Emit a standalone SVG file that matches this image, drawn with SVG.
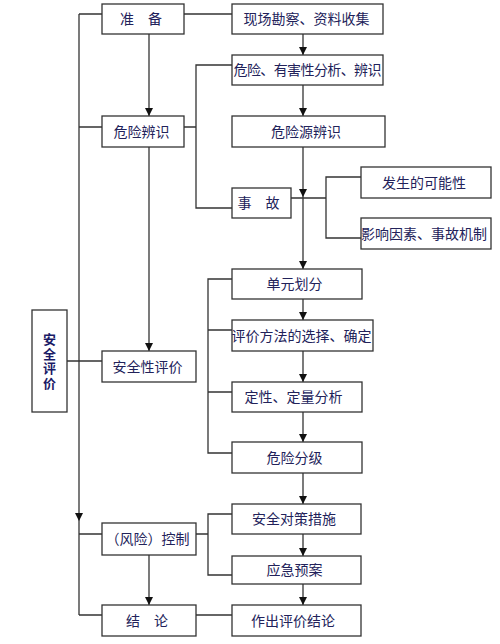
<svg xmlns="http://www.w3.org/2000/svg" width="500" height="644" viewBox="0 0 500 644">
<style>
.box{fill:#ffffff;stroke:#333333;stroke-width:1.3}
.t{font-family:"Noto Sans CJK SC","Noto Sans",sans-serif;font-size:14px;fill:#22225a;text-anchor:middle}
.tb{font-family:"Noto Sans CJK SC","Noto Sans",sans-serif;font-size:13px;font-weight:bold;fill:#1a1a66;writing-mode:vertical-rl;letter-spacing:1.5px}
.ln{fill:none;stroke:#333333;stroke-width:1.3}
.ar{fill:none;stroke:#333333;stroke-width:1.3;marker-end:url(#ah)}
</style>
<defs>
<marker id="ah" markerUnits="userSpaceOnUse" markerWidth="8" markerHeight="8" refX="8" refY="4" orient="auto">
<path d="M0,0 L8,4 L0,8 z" fill="#111111"/>
</marker>
</defs>
<rect width="500" height="644" fill="#ffffff"/>
<g id="connectors">
<path class="ar" d="M79,14 V521"/>
<path class="ln" d="M79,521 V615"/>
<path class="ln" d="M79,14 H102 M79,127 H102 M67,361 H102 M79,534 H102 M79,615 H102"/>
<path class="ar" d="M149,34 V116"/>
<path class="ar" d="M149,147 V351"/>
<path class="ar" d="M149,555 V605"/>
<path class="ln" d="M184,14 H232"/>
<path class="ln" d="M184,127 H196 M232,65 H196 V208 H232"/>
<path class="ar" d="M303,34 V55"/>
<path class="ar" d="M303,85 V116"/>
<path class="ar" d="M303,147 V197"/>
<path class="ar" d="M303,197 V269"/>
<path class="ln" d="M291,198 H326 M361,177 H326 V238 H361"/>
<path class="ln" d="M232,279 H208 V453 H232 M208,330 H232 M208,392 H232"/>
<path class="ar" d="M303,299 V320"/>
<path class="ar" d="M303,351 V382"/>
<path class="ar" d="M303,412 V442"/>
<path class="ar" d="M303,473 V504"/>
<path class="ar" d="M303,534 V556"/>
<path class="ar" d="M303,584 V605"/>
<path class="ln" d="M196,534 H208 M232,514 H208 V575 H232"/>
<path class="ln" d="M196,615 H232"/>
</g>
<g id="main"><rect class="box" x="32" y="310" width="35" height="102"/>
<text class="tb" x="49.5" y="333">安全评价</text></g>
<g id="prep"><rect class="box" x="102" y="4" width="82" height="30"/><text class="t" x="141" y="24">准　备</text></g>
<g id="hazid"><rect class="box" x="102" y="116" width="82" height="31"/><text class="t" x="141.5" y="136.5">危险辨识</text></g>
<g id="safeeval"><rect class="box" x="102" y="351" width="94" height="31"/><text class="t" x="147.5" y="371.5">安全性评价</text></g>
<g id="control"><rect class="box" x="102" y="523" width="94" height="32"/><text class="t" x="147.5" y="544">（风险）控制</text></g>
<g id="concl"><rect class="box" x="102" y="605" width="94" height="31"/><text class="t" x="147" y="625.5">结　论</text></g>
<g id="survey"><rect class="box" x="232" y="4" width="151" height="30"/><text class="t" x="306.5" y="24">现场勘察、资料收集</text></g>
<g id="analysis"><rect class="box" x="232" y="55" width="151" height="30"/><text class="t" x="307.5" y="75" textLength="148">危险、有害性分析、辨识</text></g>
<g id="source"><rect class="box" x="232" y="116" width="153" height="31"/><text class="t" x="306" y="136.5">危险源辨识</text></g>
<g id="accident"><rect class="box" x="232" y="188" width="59" height="30"/><text class="t" x="258.5" y="208">事　故</text></g>
<g id="possibility"><rect class="box" x="361" y="167" width="130" height="31"/><text class="t" x="424" y="187.5">发生的可能性</text></g>
<g id="factors"><rect class="box" x="361" y="218" width="130" height="31"/><text class="t" x="424" y="238.5">影响因素、事故机制</text></g>
<g id="unit"><rect class="box" x="232" y="269" width="130" height="30"/><text class="t" x="294.5" y="289">单元划分</text></g>
<g id="method"><rect class="box" x="232" y="320" width="141" height="31"/><text class="t" x="301.5" y="340.5">评价方法的选择、确定</text></g>
<g id="quant"><rect class="box" x="232" y="382" width="130" height="30"/><text class="t" x="293.5" y="402">定性、定量分析</text></g>
<g id="grade"><rect class="box" x="232" y="442" width="130" height="31"/><text class="t" x="294.5" y="462.5">危险分级</text></g>
<g id="measures"><rect class="box" x="232" y="504" width="129" height="30"/><text class="t" x="294" y="524">安全对策措施</text></g>
<g id="emergency"><rect class="box" x="232" y="556" width="129" height="28"/><text class="t" x="294.5" y="575">应急预案</text></g>
<g id="conclusion"><rect class="box" x="232" y="605" width="129" height="31"/><text class="t" x="293" y="625.5">作出评价结论</text></g>
</svg>
